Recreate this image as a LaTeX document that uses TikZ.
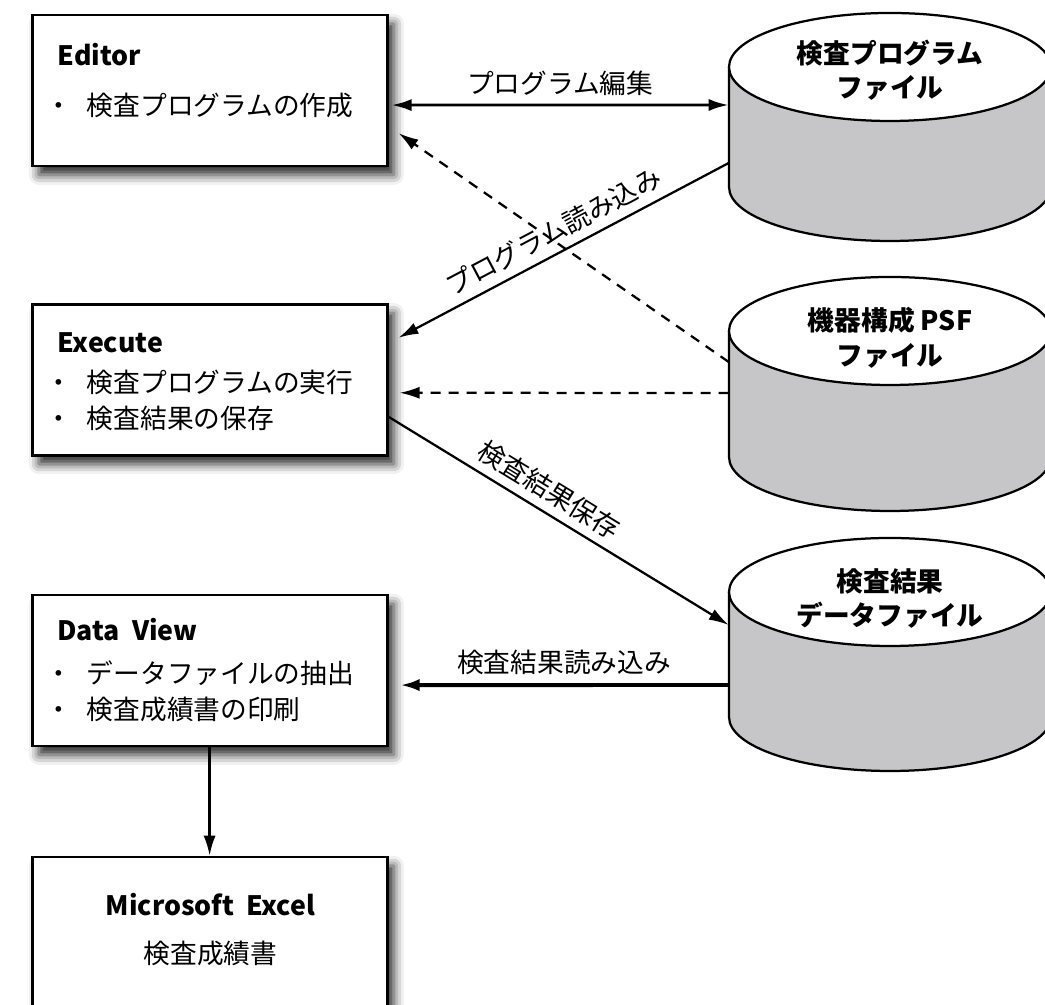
\documentclass[tikz,border=0pt]{standalone}
\usepackage{fontspec}
\setmainfont{Noto Sans CJK JP}
\usetikzlibrary{arrows.meta,shadows.blur}
\definecolor{dbgrey}{RGB}{198,198,200}

\begin{document}
\begin{tikzpicture}[
    every node/.style={font=\fontsize{19}{25.5}\selectfont, inner sep=0pt},
    >={Latex[length=0.5cm,width=0.3cm]},
    box/.style={draw, line width=2pt, fill=white, minimum width=8.875cm, minimum height=3.775cm,
      blur shadow={shadow xshift=0.17cm, shadow yshift=-0.22cm, shadow blur radius=0.25cm, shadow opacity=85}},
    title/.style={anchor=west, font=\fontsize{19}{25.5}\selectfont\bfseries},
    items/.style={anchor=west, align=left, font=\fontsize{19}{25.5}\selectfont},
    dbtext/.style={align=center, minimum width=8.05cm, font=\fontsize{19}{24.5}\selectfont\bfseries},
    flow/.style={line width=1.6pt},
    dflow/.style={line width=1.6pt, dash pattern=on 0.25cm off 0.2cm},
  ]
  \useasboundingbox (0,0) rectangle (26.125,25.125);
  \clip (0,0) rectangle (26.125,25.125);
  % \draw[help lines] (0,0) grid (26,25);

  % data files
  \foreach \yt/\yb in {23.45/20.45, 16.85/13.7, 10.325/7.2}{
    \draw[line width=1.6pt, fill=dbgrey] (18.225,\yt) -- (18.225,\yb)
      arc[start angle=180, end angle=360, x radius=4.025cm, y radius=1.35cm] -- (26.275,\yt);
    \draw[line width=1.6pt, fill=white] (22.25,\yt) ellipse [x radius=4.025cm, y radius=1.35cm];
  }
  \draw (22.25,23.375) node[dbtext] (progfile) {検査プログラム\\ファイル};
  \draw (22.25,16.675) node[dbtext] (psf) {機器構成 PSF\\ファイル};
  \draw (22.25,10.16) node[dbtext] (result) {検査結果\\データファイル};

  % programs
  \draw (5.24,22.86) node[box] (editor) {};
  \draw (1.43,23.75) node[title] (editor-title) {Editor};
  \draw (1.125,22.5) node[items] (editor-items) {・\hspace{0.375cm}検査プログラムの作成};

  \draw (5.24,15.63) node[box] (execute) {};
  \draw (1.43,16.55) node[title] (execute-title) {Execute};
  \draw (1.125,15.125) node[items] (execute-items) {・\hspace{0.375cm}検査プログラムの実行\\・\hspace{0.375cm}検査結果の保存};

  \draw (5.24,8.36) node[box] (dataview) {};
  \draw (1.43,9.375) node[title] (dataview-title) {Data~ View};
  \draw (1.125,7.84) node[items] (dataview-items) {・\hspace{0.375cm}データファイルの抽出\\・\hspace{0.375cm}検査成績書の印刷};

  \draw (5.24,1.81) node[box] (excel) {};
  \draw (5.26,2.5) node[font=\fontsize{19}{25.5}\selectfont\bfseries] (excel-title) {Microsoft~ Excel};
  \draw (5.26,1.3) node (excel-text) {検査成績書};

  % connectors
  \draw[<->, line width=2pt] ([xshift=0.075cm, yshift=-0.3625cm]editor.east) -- ([yshift=-0.875cm]progfile.west)
    node[midway, above=0.2cm] (edit-label) {プログラム編集};
  \draw[dflow, ->] ([yshift=-0.6cm]psf.west) -- ([xshift=0.25cm, yshift=-1.0625cm]editor.east);
  \draw[flow, ->] ([yshift=-2.325cm]progfile.west) -- ([xshift=0.25cm, yshift=1.05cm]execute.east)
    node[midway, above=0.2cm, sloped] (read-label) {プログラム読み込み};
  \draw[dflow, ->] ([yshift=-1.375cm]psf.west) -- ([xshift=0.275cm, yshift=-0.325cm]execute.east);
  \draw[flow, ->] ([yshift=-0.925cm]execute.east) -- ([yshift=-0.66cm]result.west)
    node[pos=0.44, above=0.2cm, sloped] (save-label) {検査結果保存};
  \draw[->, line width=2.8pt] ([yshift=-2.16cm]result.west) -- ([xshift=0.275cm, yshift=-0.3625cm]dataview.east)
    node[midway, above=0.2cm] (load-label) {検査結果読み込み};
  \draw[flow, ->] (dataview.south) -- (excel.north);
\end{tikzpicture}
\end{document}
